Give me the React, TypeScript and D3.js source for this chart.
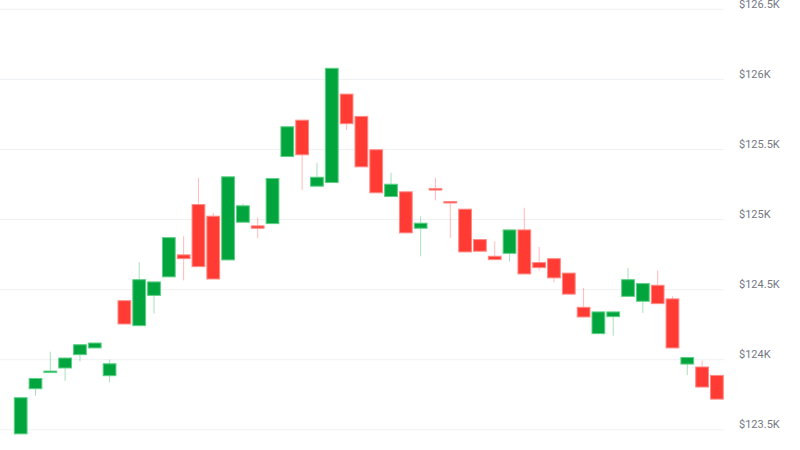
import React from "react";
import * as d3 from "d3";

const opens = [123471, 123793, 123912, 123941, 124036, 124084, 123886, 124421, 124243, 124459, 124591, 124748, 125107, 125024, 124712, 124981, 124955, 124971, 125450, 125709, 125238, 125264, 125895, 125736, 125498, 125164, 125198, 124938, 125221, 125129, 125074, 124857, 124738, 124759, 124926, 124693, 124721, 124618, 124374, 124186, 124307, 124452, 124417, 124531, 124434, 123969, 123948, 123888];
const highs = [123731, 123871, 124057, 124014, 124107, 124119, 124000, 124421, 124695, 124555, 124871, 124881, 125298, 125048, 125305, 125114, 125016, 125293, 125662, 125709, 125405, 126079, 125895, 125736, 125498, 125334, 125198, 125024, 125298, 125129, 125074, 124857, 124845, 124926, 125084, 124805, 124721, 124618, 124512, 124341, 124341, 124655, 124550, 124636, 124452, 124016, 123995, 123888];
const lows = [123470, 123743, 123911, 123850, 123988, 124084, 123838, 124255, 124243, 124329, 124591, 124566, 124664, 124576, 124712, 124981, 124866, 124971, 125450, 125209, 125238, 125264, 125638, 125376, 125191, 125164, 124905, 124738, 125136, 124869, 124769, 124774, 124714, 124702, 124612, 124636, 124552, 124468, 124305, 124186, 124171, 124452, 124334, 124400, 124084, 123891, 123805, 123719];
const closes = [123729, 123866, 123919, 124012, 124107, 124119, 123971, 124255, 124571, 124555, 124871, 124721, 124664, 124576, 125305, 125098, 124938, 125293, 125662, 125462, 125302, 126079, 125684, 125376, 125191, 125252, 124905, 124974, 125216, 125124, 124769, 124774, 124714, 124926, 124612, 124657, 124584, 124468, 124305, 124341, 124341, 124571, 124543, 124400, 124084, 124016, 123805, 123719];
const yTicks = [123500, 124000, 124500, 125000, 125500, 126000, 126500];

const UP = "#02a53d";
const UP_LIGHT = "#5ccf85";
const DOWN = "#ff3b34";
const DOWN_LIGHT = "#ff8a85";

export default function App() {
  const W = 800;
  const H = 450;
  const idx = d3.range(opens.length);
  const x = d3.scaleBand<number>().domain(idx).range([13.8, 723.8]).paddingInner(0.07);
  const y = d3.scaleLinear().domain([123500, 126500]).range([429.8, 9.3]);
  const fmt = (v: number) => `$${+(v / 1000).toFixed(1)}K`;

  return (
    <svg width={W} height={H} style={{ position: "absolute", left: 0, top: 0, background: "#fff" }}>
      <g>
        {yTicks.map((t) => (
          <line key={t} x1={0} x2={724} y1={y(t)} y2={y(t)} stroke="#eef0f3" strokeWidth={1} />
        ))}
        {yTicks.map((t) => (
          <text key={"l" + t} x={739} y={y(t) - 1.5} fontSize={11} fill="#737884"
            fontFamily="Roboto, 'Liberation Sans', Arial, sans-serif">{fmt(t)}</text>
        ))}
      </g>
      <g>
        {idx.map((i) => {
          const up = closes[i] >= opens[i];
          const cx = (x(i) as number) + x.bandwidth() / 2;
          return (
            <line key={"w" + i} x1={cx} x2={cx} y1={y(highs[i])} y2={y(lows[i])}
              stroke={up ? UP : DOWN} strokeOpacity={0.35} strokeWidth={1} />
          );
        })}
        {idx.map((i) => {
          const up = closes[i] >= opens[i];
          const top = y(Math.max(opens[i], closes[i]));
          const bot = y(Math.min(opens[i], closes[i]));
          const h = Math.max(bot - top, 1.5);
          return (
            <rect key={"b" + i} x={(x(i) as number) + 0.5} y={top} width={x.bandwidth() - 1} height={h}
              fill={up ? UP : DOWN} stroke={up ? UP_LIGHT : DOWN_LIGHT} strokeWidth={1} />
          );
        })}
      </g>
    </svg>
  );
}
